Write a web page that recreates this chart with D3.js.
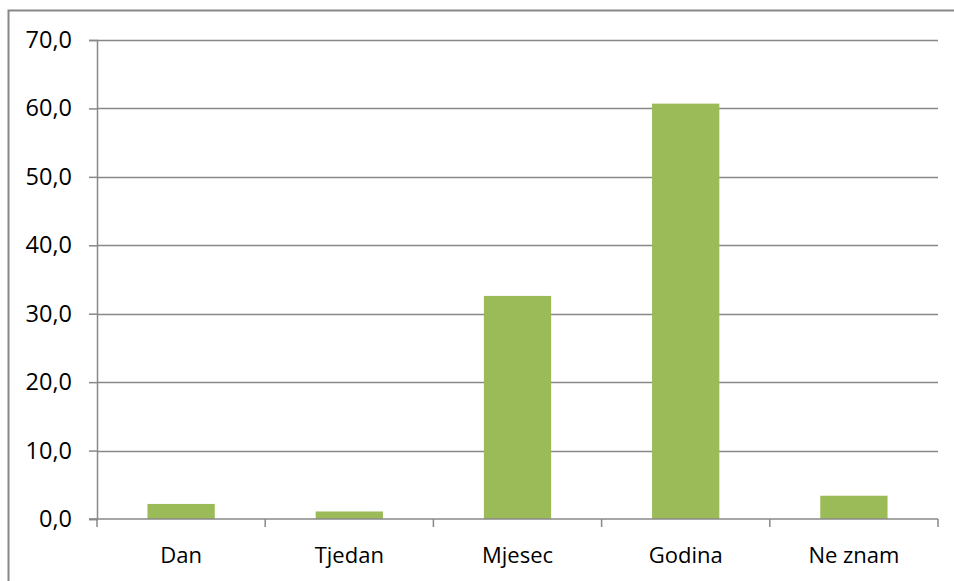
<!DOCTYPE html>
<html>
<head>
<meta charset="utf-8">
<script src="https://cdn.jsdelivr.net/npm/d3@7"></script>
<style>
  html, body { margin: 0; padding: 0; background: #fff; overflow: hidden; }
  svg { display: block; }
  .tick text { font-family: "Open Sans", sans-serif; fill: #000; }
</style>
</head>
<body>
<svg id="chart" width="954" height="581"></svg>
<script>
// chart data
var categories = ["Dan", "Tjedan", "Mjesec", "Godina", "Ne znam"];
var values = [2.2, 1.1, 32.6, 60.7, 3.4];
var yTicks = [0, 10, 20, 30, 40, 50, 60, 70];

var svg = d3.select("#chart");
var margin = {left: 97, right: 16, top: 40, bottom: 62};
var width = 954, height = 581;

// outer frame (cut off at right and bottom)
svg.append("rect")
  .attr("x", 8.5).attr("y", 10.5)
  .attr("width", 1000).attr("height", 1000)
  .attr("fill", "none")
  .attr("stroke", "#878787")
  .attr("stroke-width", 2);

var x = d3.scaleBand()
  .domain(categories)
  .range([margin.left, width - margin.right])
  .paddingInner(0.6)
  .paddingOuter(0.3);

var y = d3.scaleLinear()
  .domain([0, 70])
  .range([height - margin.bottom, margin.top]);

// gridlines
svg.append("g")
  .selectAll("line")
  .data(yTicks.slice(1))
  .enter()
  .append("line")
  .attr("x1", margin.left).attr("x2", width - margin.right)
  .attr("y1", function(d) { return Math.round(y(d)) + 0.5; })
  .attr("y2", function(d) { return Math.round(y(d)) + 0.5; })
  .attr("stroke", "#888")
  .attr("stroke-width", 1.5);

// bars
svg.append("g")
  .selectAll("rect")
  .data(values)
  .enter()
  .append("rect")
  .attr("x", function(d, i) { return x(categories[i]); })
  .attr("width", x.bandwidth())
  .attr("y", function(d) { return y(d); })
  .attr("height", function(d) { return y(0) - y(d); })
  .attr("fill", "#9bbb59");

// y axis
var yAxis = svg.append("g")
  .attr("transform", "translate(" + margin.left + ",0)")
  .call(d3.axisLeft(y)
    .tickValues(yTicks)
    .tickSize(8)
    .tickPadding(17)
    .tickFormat(function(d) { return d3.format(".1f")(d).replace(".", ","); }));
yAxis.selectAll("text").style("font-size", "23.5px");

// x axis with ticks at band boundaries
var xAxis = svg.append("g")
  .attr("transform", "translate(0," + y(0) + ")");
xAxis.append("line")
  .attr("x1", margin.left - 8).attr("x2", width - margin.right)
  .attr("stroke", "#888").attr("stroke-width", 1.5);

var bounds = d3.range(categories.length + 1).map(function(i) {
  return margin.left + i * (width - margin.left - margin.right) / categories.length;
});
xAxis.selectAll(".xt")
  .data(bounds)
  .enter()
  .append("line")
  .attr("x1", function(d) { return d; }).attr("x2", function(d) { return d; })
  .attr("y1", 0).attr("y2", 8)
  .attr("stroke", "#888").attr("stroke-width", 1.5);

xAxis.selectAll(".xl")
  .data(categories)
  .enter()
  .append("text")
  .attr("x", function(d) { return x(d) + x.bandwidth() / 2; })
  .attr("y", 44)
  .attr("text-anchor", "middle")
  .style("font-family", "'Open Sans', sans-serif")
  .style("font-size", "22px")
  .text(function(d) { return d; });

yAxis.select(".domain").attr("stroke", "#888").attr("stroke-width", 1.5);
yAxis.selectAll(".tick line").attr("stroke", "#888").attr("stroke-width", 1.5);
</script>
</body>
</html>
